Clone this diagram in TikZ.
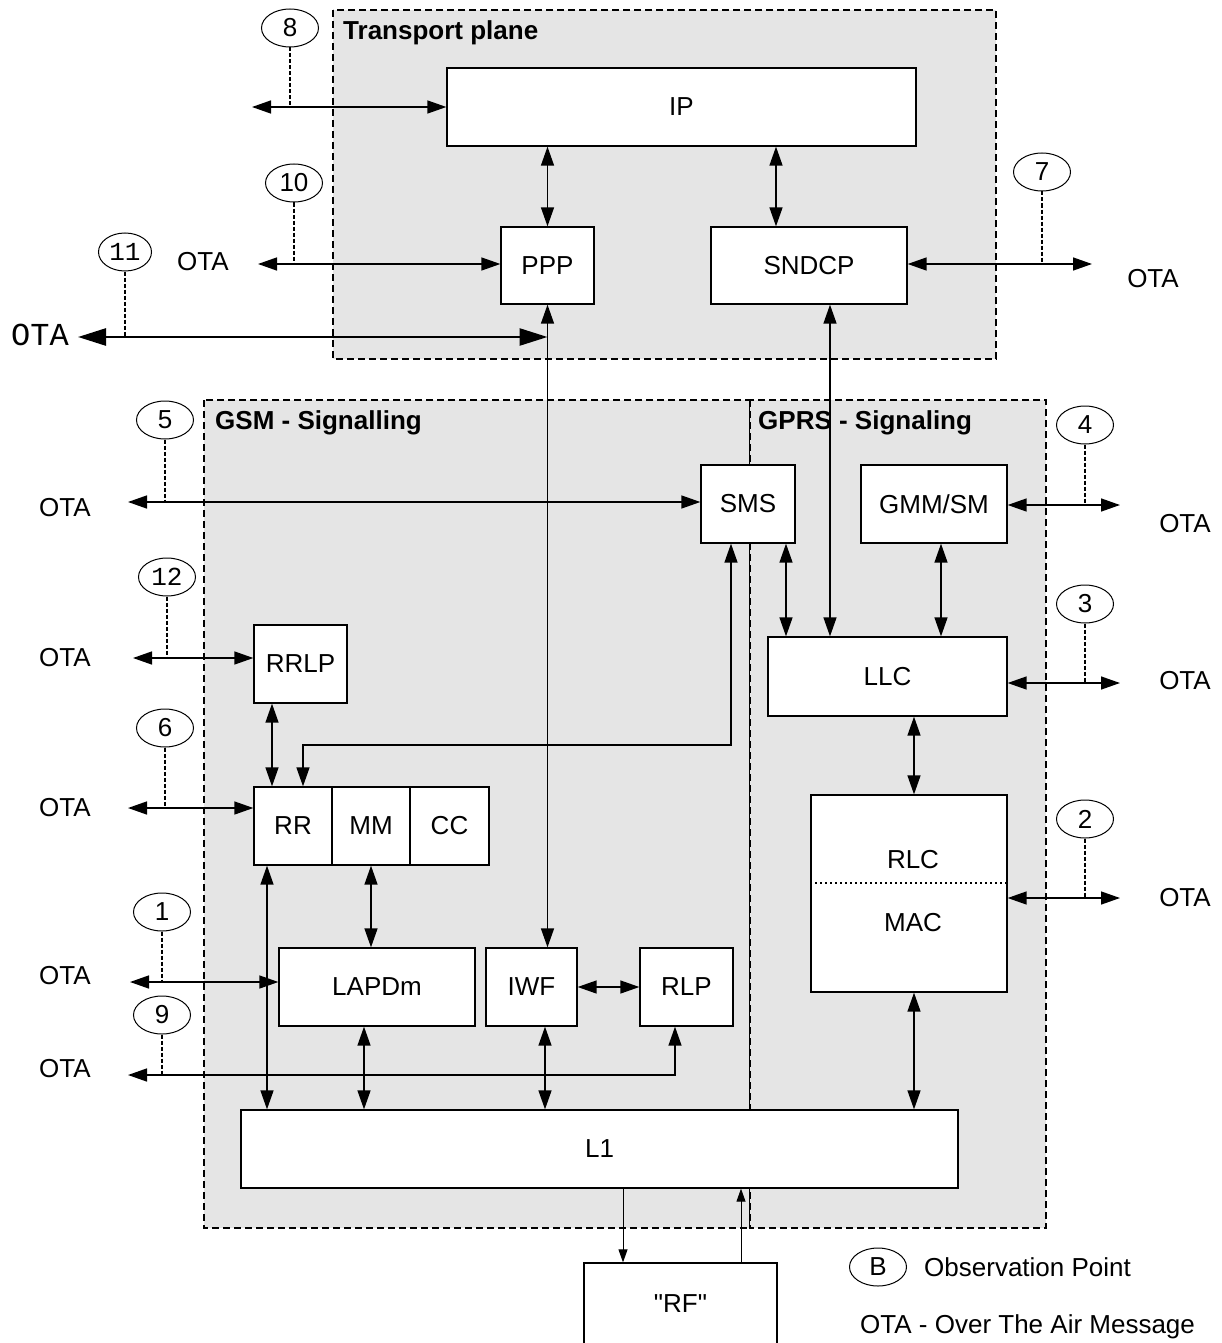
\documentclass[tikz,border=0pt]{standalone}
\usepackage{fontspec}
\setmainfont{Liberation Sans}[Ligatures=TeXOff]
\newfontfamily\otamono{Liberation Mono}
\usetikzlibrary{arrows.meta,shapes.geometric}

\begin{document}
\begin{tikzpicture}[x=1pt,y=-1pt]
    \tikzset{BoxStyle/.style={draw, fill=white, line width=1.3pt, inner sep=0pt,
        font=\fontsize{26}{31}\selectfont},
      PlaneStyle/.style={draw, fill=gray!20, line width=1.2pt, dash pattern=on 7pt off 4pt},
      ObsStyle/.style={draw, ellipse, line width=1pt, minimum width=57pt,
        minimum height=38pt, inner sep=0pt, font=\fontsize{26}{31}\selectfont},
      TextStyle/.style={inner sep=0pt, font=\fontsize{26}{31}\selectfont},
      MonoStyle/.style={inner sep=0pt, font=\otamono\fontsize{26}{31}\selectfont},
      EdgeStyle/.style={line width=1.4pt,
        {Triangle[length=19pt,width=13pt]}-{Triangle[length=19pt,width=13pt]}},
      OneWayStyle/.style={line width=1pt, -{Triangle[length=13pt,width=9pt]}},
      TapStyle/.style={line width=1.2pt, dash pattern=on 4pt off 2pt}}
    \useasboundingbox (0,0) rectangle (1222,1343);
    % planes
    \draw[PlaneStyle] (333,10) rectangle (996,359);
    \draw[PlaneStyle] (204,400) rectangle (750,1228);
    \draw[PlaneStyle] (750,400) rectangle (1046,1228);
    \node[TextStyle, anchor=west, font=\fontsize{26}{31}\selectfont\bfseries] (TP) at (343,33) {Transport plane};
    \node[TextStyle, anchor=west, font=\fontsize{26}{31}\selectfont\bfseries] (GSM) at (215,423) {GSM - Signalling};
    \node[TextStyle, anchor=west, font=\fontsize{26}{31}\selectfont\bfseries] (GPRS) at (758,423) {GPRS - Signaling};
    % layers
    \node[BoxStyle, minimum width=469pt, minimum height=78pt] (IP) at (681.5,107) {IP};
    \node[BoxStyle, minimum width=93pt, minimum height=77pt] (PPP) at (547.5,265.5) {PPP};
    \node[BoxStyle, minimum width=196pt, minimum height=77pt] (SNDCP) at (809,265.5) {SNDCP};
    \node[BoxStyle, minimum width=94pt, minimum height=78pt] (SMS) at (748,504) {SMS};
    \node[BoxStyle, minimum width=146pt, minimum height=78pt] (GMM) at (934,504) {GMM/SM};
    \node[BoxStyle, minimum width=93pt, minimum height=78pt] (RRLP) at (300.5,664) {RRLP};
    \node[BoxStyle, minimum width=239pt, minimum height=79pt] (LLC) at (887.5,676.5) {LLC};
    \node[BoxStyle, minimum width=78pt, minimum height=78pt] (RR) at (293,826) {RR};
    \node[BoxStyle, minimum width=78pt, minimum height=78pt] (MM) at (371,826) {MM};
    \node[BoxStyle, minimum width=79pt, minimum height=78pt] (CC) at (449.5,826) {CC};
    \node[BoxStyle, minimum width=196pt, minimum height=197pt] (RLCMAC) at (909,893.5) {};
    \node[TextStyle] (RLC) at (913,860) {RLC};
    \node[TextStyle] (MAC) at (913,923) {MAC};
    \coordinate (split) at (909,883);
    \draw[line width=1.2pt, dash pattern=on 1.5pt off 3.5pt] (split -| RLCMAC.west) -- (split -| RLCMAC.east);
    \node[BoxStyle, minimum width=196pt, minimum height=78pt] (LAPDm) at (377,987) {LAPDm};
    \node[BoxStyle, minimum width=91pt, minimum height=78pt] (IWF) at (531.5,987) {IWF};
    \node[BoxStyle, minimum width=93pt, minimum height=78pt] (RLP) at (686.5,987) {RLP};
    \node[BoxStyle, minimum width=717pt, minimum height=78pt] (L1) at (599.5,1149) {L1};
    \node[BoxStyle, minimum width=193pt, minimum height=82pt] (RF) at (680.5,1304) {"RF"};
    % columns
    \coordinate (ipsn) at (776,0);
    \coordinate (snllc) at (830,0);
    \coordinate (smsllc) at (786,0);
    \coordinate (gmmllc) at (941,0);
    \coordinate (rlccol) at (914,0);
    \coordinate (rrlpcol) at (272,0);
    \coordinate (rrcol) at (267,0);
    \coordinate (lapcol) at (364,0);
    \coordinate (iwfcol) at (545,0);
    \coordinate (rlpcol) at (675,0);
    \coordinate (rfdown) at (623,0);
    \coordinate (rfup) at (741,0);
    \coordinate (smsbend) at (731,745);
    \coordinate (rrbend) at (303,745);
    % links
    \draw[EdgeStyle] (PPP.north) -- (PPP.north |- IP.south);
    \draw[EdgeStyle] (IP.south -| ipsn) -- (SNDCP.north -| ipsn);
    \draw[EdgeStyle] (PPP.south) -- (PPP.south |- IWF.north);
    \draw[EdgeStyle] (SNDCP.south -| snllc) -- (LLC.north -| snllc);
    \draw[EdgeStyle] (SMS.south -| smsllc) -- (LLC.north -| smsllc);
    \draw[EdgeStyle] (GMM.south -| gmmllc) -- (LLC.north -| gmmllc);
    \draw[EdgeStyle] (LLC.south -| rlccol) -- (RLCMAC.north -| rlccol);
    \draw[EdgeStyle] (RLCMAC.south -| rlccol) -- (L1.north -| rlccol);
    \draw[EdgeStyle] (SMS.south -| smsbend) -- (smsbend) -- (rrbend) -- (RR.north -| rrbend);
    \draw[EdgeStyle] (RRLP.south -| rrlpcol) -- (RR.north -| rrlpcol);
    \draw[EdgeStyle] (RR.south -| rrcol) -- (L1.north -| rrcol);
    \draw[EdgeStyle] (MM.south) -- (MM.south |- LAPDm.north);
    \draw[EdgeStyle] (LAPDm.south -| lapcol) -- (L1.north -| lapcol);
    \draw[EdgeStyle] (IWF.south -| iwfcol) -- (L1.north -| iwfcol);
    \draw[EdgeStyle] (IWF.east) -- (RLP.west);
    \draw[OneWayStyle] (L1.south -| rfdown) -- (RF.north -| rfdown);
    \draw[OneWayStyle] (RF.north -| rfup) -- (L1.south -| rfup);
    % observation points
    \node[ObsStyle] (o8) at (290,28) {8};
    \coordinate (ota8) at (252,107);
    \draw[EdgeStyle] (ota8) -- (ota8 -| IP.west);
    \draw[TapStyle] (o8.south) -- (o8.south |- ota8);
    \node[ObsStyle] (o10) at (294,183) {10};
    \coordinate (ota10) at (258,264);
    \draw[EdgeStyle] (ota10) -- (ota10 -| PPP.west);
    \draw[TapStyle] (o10.south) -- (o10.south |- ota10);
    \node[TextStyle] (l10) at (203,262) {OTA};
    \node[ObsStyle, MonoStyle, draw, minimum width=53pt] (o11) at (125,252) {11};
    \coordinate (ota11) at (78,337);
    \draw[line width=2.6pt, {Triangle[length=28pt,width=17pt]}-{Triangle[length=28pt,width=17pt]}]
      (ota11) -- (ota11 -| PPP.south);
    \draw[TapStyle, line width=1.6pt] (o11.south) -- (o11.south |- ota11);
    \node[MonoStyle, font=\otamono\fontsize{32}{38}\selectfont] (l11) at (40,335) {OTA};
    \node[ObsStyle] (o5) at (165,420) {5};
    \coordinate (ota5) at (128,502);
    \draw[EdgeStyle] (ota5) -- (ota5 -| SMS.west);
    \draw[TapStyle] (o5.south) -- (o5.south |- ota5);
    \node[TextStyle] (l5) at (65,508) {OTA};
    \node[ObsStyle, MonoStyle, draw] (o12) at (167,577) {12};
    \coordinate (ota12) at (133,658);
    \draw[EdgeStyle] (ota12) -- (ota12 -| RRLP.west);
    \draw[TapStyle] (o12.south) -- (o12.south |- ota12);
    \node[TextStyle] (l12) at (65,658) {OTA};
    \node[ObsStyle] (o6) at (165,728) {6};
    \coordinate (ota6) at (128,808);
    \draw[EdgeStyle] (ota6) -- (ota6 -| RR.west);
    \draw[TapStyle] (o6.south) -- (o6.south |- ota6);
    \node[TextStyle] (l6) at (65,808) {OTA};
    \node[ObsStyle] (o1) at (162,912) {1};
    \coordinate (ota1) at (130,982);
    \draw[EdgeStyle] (ota1) -- (ota1 -| LAPDm.west);
    \draw[TapStyle] (o1.south) -- (o1.south |- ota1);
    \node[TextStyle] (l1) at (65,976) {OTA};
    \node[ObsStyle] (o9) at (162,1015) {9};
    \coordinate (ota9) at (128,1075);
    \draw[EdgeStyle] (ota9) -- (ota9 -| rlpcol) -- (RLP.south -| rlpcol);
    \draw[TapStyle] (o9.south) -- (o9.south |- ota9);
    \node[TextStyle] (l9) at (65,1069) {OTA};
    \node[ObsStyle] (o7) at (1042,172) {7};
    \coordinate (ota7) at (1092,264);
    \draw[EdgeStyle] (ota7 -| SNDCP.east) -- (ota7);
    \draw[TapStyle] (o7.south) -- (o7.south |- ota7);
    \node[TextStyle] (l7) at (1153,279) {OTA};
    \node[ObsStyle] (o4) at (1085,425) {4};
    \coordinate (ota4) at (1120,505);
    \draw[EdgeStyle] (ota4 -| GMM.east) -- (ota4);
    \draw[TapStyle] (o4.south) -- (o4.south |- ota4);
    \node[TextStyle] (l4) at (1185,524) {OTA};
    \node[ObsStyle] (o3) at (1085,604) {3};
    \coordinate (ota3) at (1120,683);
    \draw[EdgeStyle] (ota3 -| LLC.east) -- (ota3);
    \draw[TapStyle] (o3.south) -- (o3.south |- ota3);
    \node[TextStyle] (l3) at (1185,681) {OTA};
    \node[ObsStyle] (o2) at (1085,819) {2};
    \coordinate (ota2) at (1120,898);
    \draw[EdgeStyle] (ota2 -| RLCMAC.east) -- (ota2);
    \draw[TapStyle] (o2.south) -- (o2.south |- ota2);
    \node[TextStyle] (l2) at (1185,898) {OTA};
    % legend
    \node[ObsStyle] (key) at (878,1267) {B};
    \node[TextStyle, anchor=west] (keytext) at (924,1267) {Observation Point};
    \node[TextStyle, anchor=west] (otakey) at (860,1327) {OTA - Over The Air Message};
\end{tikzpicture}
\end{document}
